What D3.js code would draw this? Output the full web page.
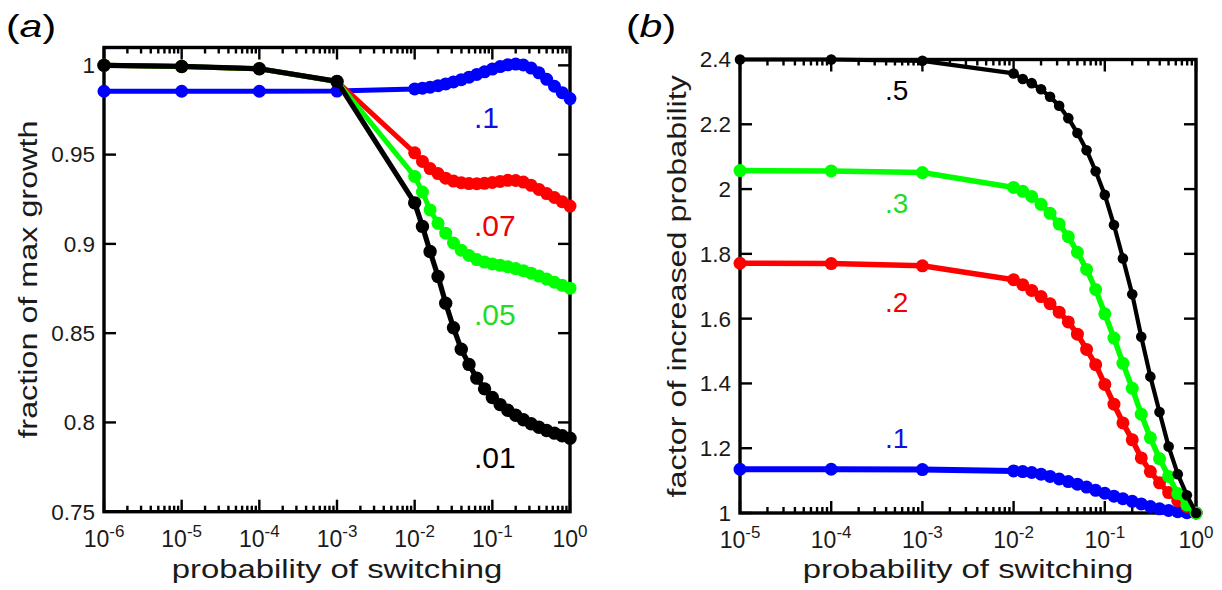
<!DOCTYPE html>
<html>
<head>
<meta charset="utf-8">
<script src="https://cdn.jsdelivr.net/npm/d3@7"></script>
<style>
  body { margin: 0; background: #fff; }
  svg { display: block; }
  text { font-family: "Liberation Sans", Arial, Helvetica, sans-serif; }
</style>
</head>
<body>
<svg id="fig" width="1222" height="590"></svg>
<script>
// ---------- panel (a): fraction of max growth ----------
const switchA = [1e-6, 1e-5, 1e-4, 1e-3,
  0.01, 0.0126, 0.0158, 0.02, 0.0251, 0.0316, 0.0398, 0.0501, 0.0631, 0.0794,
  0.1, 0.126, 0.158, 0.2, 0.251, 0.316, 0.398, 0.501, 0.631, 0.794, 1];

const growth10 = [0.9855, 0.9855, 0.9855, 0.9856,
  0.9868, 0.9872, 0.9878, 0.9886, 0.9896, 0.9907, 0.9920, 0.9934, 0.9949, 0.9964,
  0.9979, 0.9993, 1.0003, 1.0007, 1.0002, 0.9985, 0.9958, 0.9922, 0.9883, 0.9847, 0.9814];

const growth07 = [1.0, 0.9994, 0.9981, 0.991,
  0.9510, 0.9462, 0.9422, 0.9394, 0.9368, 0.9352, 0.9343, 0.9338, 0.9337, 0.9339,
  0.9344, 0.9350, 0.9356, 0.9355, 0.9346, 0.9328, 0.9305, 0.9282, 0.9260, 0.9236, 0.9212];

const growth05 = [1.0, 0.9994, 0.9981, 0.991,
  0.9378, 0.9290, 0.9190, 0.9115, 0.9060, 0.9005, 0.8965, 0.8935, 0.8912, 0.8898,
  0.8888, 0.8880, 0.8872, 0.8862, 0.8850, 0.8836, 0.8820, 0.8803, 0.8785, 0.8768, 0.8752];

const growth01 = [1.0, 0.9994, 0.9981, 0.991,
  0.9230, 0.9098, 0.8957, 0.8817, 0.8668, 0.8530, 0.8410, 0.8325, 0.8248, 0.8188,
  0.8140, 0.8100, 0.8068, 0.8040, 0.8015, 0.7993, 0.7973, 0.7955, 0.7940, 0.7925, 0.7912];

const yTicksA = [0.75, 0.8, 0.85, 0.9, 0.95, 1];
const yTickLabelsA = ["0.75", "0.8", "0.85", "0.9", "0.95", "1"];

// ---------- panel (b): factor of increased probability ----------
const switchB = [1e-5, 1e-4, 1e-3,
  0.01, 0.0126, 0.0158, 0.02, 0.0251, 0.0316, 0.0398, 0.0501, 0.0631, 0.0794,
  0.1, 0.126, 0.158, 0.2, 0.251, 0.316, 0.398, 0.501, 0.631, 0.794, 1];

const factor1 = [1.135, 1.135, 1.134,
  1.130, 1.128, 1.125, 1.120, 1.113, 1.105, 1.097, 1.089, 1.080, 1.070,
  1.061, 1.052, 1.044, 1.036, 1.028, 1.020, 1.013, 1.008, 1.004, 1.001, 1.0];

const factor2 = [1.771, 1.770, 1.763,
  1.720, 1.705, 1.687, 1.668, 1.646, 1.620, 1.590, 1.552, 1.505, 1.458,
  1.397, 1.336, 1.278, 1.226, 1.170, 1.128, 1.093, 1.063, 1.038, 1.020, 1.0];

const factor3 = [2.057, 2.056, 2.051,
  2.005, 1.993, 1.977, 1.953, 1.925, 1.892, 1.853, 1.805, 1.752, 1.690,
  1.615, 1.540, 1.462, 1.385, 1.305, 1.232, 1.168, 1.113, 1.060, 1.025, 1.0];

const factor5 = [2.400, 2.400, 2.396,
  2.357, 2.340, 2.327, 2.308, 2.285, 2.257, 2.219, 2.173, 2.120, 2.055,
  1.982, 1.889, 1.786, 1.675, 1.544, 1.421, 1.312, 1.205, 1.120, 1.055, 1.0];

const yTicksB = [1, 1.2, 1.4, 1.6, 1.8, 2, 2.2, 2.4];
const yTickLabelsB = ["1", "1.2", "1.4", "1.6", "1.8", "2", "2.2", "2.4"];

const xLabel = "probability of switching";

// ---------- drawing ----------
const svg = d3.select("#fig");

// the figure's lettering runs wide; stretch the large labels horizontally
function widen(sel, factor) {
  sel.each(function () {
    const len = this.getComputedTextLength();
    d3.select(this).attr("textLength", len * factor).attr("lengthAdjust", "spacingAndGlyphs");
  });
}

function drawPanel(cfg) {
  const g = svg.append("g");
  const x = d3.scaleLog().domain(cfg.xDomain).range([cfg.left, cfg.right]);
  const y = d3.scaleLinear().domain(cfg.yDomain).range([cfg.bottom, cfg.top]);

  // tick positions on the log axis
  const lo = Math.round(Math.log10(cfg.xDomain[0]));
  const hi = Math.round(Math.log10(cfg.xDomain[1]));
  const majors = d3.range(lo, hi + 1).map(e => Math.pow(10, e));
  const minors = [];
  for (let e = lo; e < hi; e++) for (let k = 2; k <= 9; k++) minors.push(k * Math.pow(10, e));

  const ticks = g.append("g").attr("stroke", "#000").attr("stroke-width", 2.4);
  // bottom and top: ticks point into the box
  [[cfg.bottom, -1], [cfg.top, 1]].forEach(([yy, dir]) => {
    ticks.selectAll(null).data(majors).join("line")
      .attr("x1", d => x(d)).attr("x2", d => x(d))
      .attr("y1", yy).attr("y2", yy + dir * 12);
    ticks.selectAll(null).data(minors).join("line")
      .attr("x1", d => x(d)).attr("x2", d => x(d))
      .attr("y1", yy).attr("y2", yy + dir * 6);
  });
  // left and right
  [[cfg.left, 1], [cfg.right, -1]].forEach(([xx, dir]) => {
    ticks.selectAll(null).data(cfg.yTicks).join("line")
      .attr("y1", d => y(d)).attr("y2", d => y(d))
      .attr("x1", xx).attr("x2", xx + dir * 12);
  });

  // frame
  g.append("rect")
    .attr("x", cfg.left).attr("y", cfg.top)
    .attr("width", cfg.right - cfg.left).attr("height", cfg.bottom - cfg.top)
    .attr("fill", "none").attr("stroke", "#000").attr("stroke-width", 3.4);

  // y tick labels
  g.append("g").selectAll("text").data(cfg.yTicks).join("text")
    .attr("x", cfg.left - 9).attr("y", d => y(d)).attr("dy", "0.35em")
    .attr("text-anchor", "end").attr("font-size", 22.5).style("fill", "#1a1a1a")
    .text((d, i) => cfg.yTickLabels[i]);

  // x tick labels: 10 with a raised exponent
  const xl = g.append("g").selectAll("text").data(majors).join("text")
    .attr("x", d => x(d)).attr("y", cfg.bottom + 35)
    .attr("text-anchor", "middle").attr("font-size", 23).style("fill", "#1a1a1a");
  xl.append("tspan").text("10");
  xl.append("tspan").attr("dy", -10).attr("font-size", 17)
    .text(d => String(Math.round(Math.log10(d))));

  // axis titles
  const xt = g.append("text")
    .attr("x", (cfg.left + cfg.right) / 2).attr("y", 578)
    .attr("text-anchor", "middle").attr("font-size", 26.5).style("fill", "#1a1a1a")
    .text(xLabel);
  widen(xt, 1.24);
  const yt = g.append("text")
    .attr("transform", `translate(${cfg.yTitleX},${(cfg.top + cfg.bottom) / 2}) rotate(-90)`)
    .attr("text-anchor", "middle").attr("font-size", 26.5).style("fill", "#1a1a1a")
    .text(cfg.yTitle);
  widen(yt, 1.22);

  // panel letter
  const pl = g.append("text").attr("x", cfg.letterX).attr("y", 37).attr("font-size", 32)
    .style("fill", "#000");
  pl.append("tspan").text("(");
  pl.append("tspan").attr("font-style", "italic").text(cfg.letter);
  pl.append("tspan").text(")");
  widen(pl, 1.28);

  // series
  const line = d3.line().x(d => x(d[0])).y(d => y(d[1]));
  cfg.series.forEach(s => {
    const pts = cfg.xs.map((p, i) => [p, s.values[i]]);
    const sg = g.append("g");
    sg.append("path").datum(pts)
      .attr("d", line).attr("fill", "none")
      .attr("stroke", s.color).attr("stroke-width", s.width)
      .attr("stroke-linejoin", "round");
    sg.selectAll("circle").data(pts).join("circle")
      .attr("cx", d => x(d[0])).attr("cy", d => y(d[1]))
      .attr("r", s.r).attr("fill", s.color);
  });

  // curve labels
  g.append("g").selectAll("text").data(cfg.series).join("text")
    .attr("x", cfg.tagX).attr("y", s => s.tagY)
    .attr("font-size", cfg.tagSize).style("fill", s => s.textColor)
    .text(s => s.tag);
}

drawPanel({
  letter: "a", letterX: 6,
  left: 104, right: 570, top: 47.5, bottom: 511.7,
  xDomain: [1e-6, 1], yDomain: [0.75, 1.01],
  yTicks: yTicksA, yTickLabels: yTickLabelsA,
  yTitle: "fraction of max growth", yTitleX: 37,
  xs: switchA, tagX: 474, tagSize: 30,
  series: [
    { values: growth10, color: "#0000ff", textColor: "#1010e0", width: 5, r: 6.5, tag: ".1", tagY: 128 },
    { values: growth07, color: "#ff0000", textColor: "#f00000", width: 5, r: 6.5, tag: ".07", tagY: 236 },
    { values: growth05, color: "#00ff00", textColor: "#1fdc28", width: 5, r: 6.5, tag: ".05", tagY: 325 },
    { values: growth01, color: "#000000", textColor: "#000000", width: 5.2, r: 6.7, tag: ".01", tagY: 468 }
  ]
});

drawPanel({
  letter: "b", letterX: 626,
  left: 740, right: 1196, top: 59.5, bottom: 513,
  xDomain: [1e-5, 1], yDomain: [1, 2.4],
  yTicks: yTicksB, yTickLabels: yTickLabelsB,
  yTitle: "factor of increased probability", yTitleX: 686,
  xs: switchB, tagX: 885, tagSize: 28,
  series: [
    { values: factor1, color: "#0000ff", textColor: "#1010e0", width: 6, r: 6.5, tag: ".1", tagY: 448 },
    { values: factor2, color: "#ff0000", textColor: "#f00000", width: 5.5, r: 6.5, tag: ".2", tagY: 312 },
    { values: factor3, color: "#00ff00", textColor: "#1fdc28", width: 5.5, r: 6.5, tag: ".3", tagY: 213 },
    { values: factor5, color: "#000000", textColor: "#000000", width: 4.2, r: 5.3, tag: ".5", tagY: 100 }
  ]
});
</script>
</body>
</html>
